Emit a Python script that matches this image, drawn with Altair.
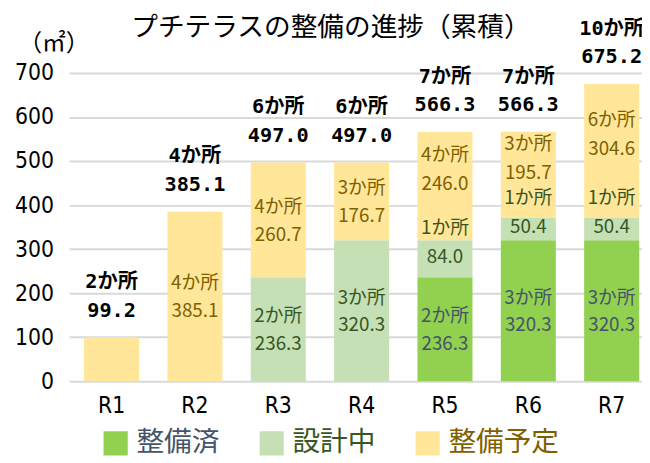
import altair as alt
import pandas as pd

# ---------------- data ----------------
periods = ["R1", "R2", "R3", "R4", "R5", "R6", "R7"]
categories = ["整備済", "設計中", "整備予定"]

done_area = [0, 0, 0, 0, 236.3, 320.3, 320.3]
done_count = [0, 0, 0, 0, 2, 3, 3]
design_area = [0, 0, 236.3, 320.3, 84.0, 50.4, 50.4]
design_count = [0, 0, 2, 3, 1, 1, 1]
plan_area = [99.2, 385.1, 260.7, 176.7, 246.0, 195.7, 304.6]
plan_count = [2, 4, 4, 3, 4, 3, 6]

total_area = [99.2, 385.1, 497.0, 497.0, 566.3, 566.3, 675.2]
total_count = [2, 4, 6, 6, 7, 7, 10]

y_ticks = [0, 100, 200, 300, 400, 500, 600, 700]
title_text = "プチテラスの整備の進捗（累積）"
unit_text = "（㎡）"

# periods whose segment labels are not drawn inside the bar
hidden_inner = ["R1"]
# periods whose upper segment labels sit raised above the segment centre
raised_periods = ["R5", "R6", "R7"]

bar_colors = ["#92D050", "#C5E0B4", "#FFE699"]
label_colors = ["#44546A", "#375623", "#7F6000"]
FONT = "Noto Sans CJK JP"
NARROW = "'Liberation Sans Narrow', 'DejaVu Sans Condensed', 'Noto Sans CJK JP'"
MONO = "'DejaVu Sans Mono', 'Noto Sans CJK JP'"

# ---------------- tables ----------------
rows = []
series = [(done_area, done_count), (design_area, design_count), (plan_area, plan_count)]
for i, r in enumerate(periods):
    for k, (areas, counts) in enumerate(series):
        a = areas[i]
        if a <= 0:
            continue
        rows.append({
            "R": r,
            "cat": categories[k],
            "ord": k,
            "area": a,
            "cnt_t": f"{counts[i]}か所",
            "val_t": f"{a:.1f}",
            "show": r not in hidden_inner,
            "raised": (r in raised_periods) and k > 0,
        })
df = pd.DataFrame(rows)

tot = pd.DataFrame({
    "R": periods,
    "total": total_area,
    "cnt_t": [f"{c}か所" for c in total_count],
    "val_t": [f"{v:.1f}" for v in total_area],
})

# ---------------- encodings ----------------
x_enc = alt.X(
    "R:N", sort=periods,
    scale=alt.Scale(paddingInner=0.34, paddingOuter=0.106, align=0.84),
    axis=alt.Axis(title=None, labelAngle=0, labelFontSize=23, labelPadding=14,
                  ticks=False, domain=False, grid=False, labelColor="#000000",
                  labelFont=NARROW),
)

y_axis = alt.Axis(
    values=y_ticks, title=unit_text, titleAngle=0, titleAlign="center",
    titleBaseline="middle", titleX=-16, titleY=-30, titleFontSize=24,
    titleFontWeight="normal", titleFont=FONT, titleColor="#000000",
    labelFontSize=23, labelFont=NARROW, labelColor="#000000", labelPadding=16,
    ticks=False, domain=False, grid=True, gridColor="#D9D9D9", gridWidth=2,
)
y_scale = alt.Scale(domain=[0, 700], nice=False)


def yenc(field):
    return alt.Y(field, scale=y_scale, axis=y_axis)


label_color_expr = (
    "datum.label == '整備済' ? '#44546A' : "
    "datum.label == '設計中' ? '#375623' : '#7F6000'"
)

base = (
    alt.Chart(df)
    .transform_stack(stack="area", groupby=["R"],
                     sort=[alt.SortField("ord", order="ascending")],
                     as_=["y0", "y1"])
    .transform_calculate(mid="(datum.y0 + datum.y1) / 2")
)

bars = base.mark_bar().encode(
    x=x_enc,
    y=yenc("y0:Q"),
    y2="y1:Q",
    color=alt.Color(
        "cat:N",
        scale=alt.Scale(domain=categories, range=bar_colors),
        legend=alt.Legend(
            title=None, orient="none", legendX=33, legendY=361,
            direction="horizontal", columns=3, symbolType="square",
            symbolSize=600, symbolStrokeWidth=0, labelFontSize=28,
            labelFont=FONT, labelOffset=7, columnPadding=38,
            labelColor=alt.ExprRef(expr=label_color_expr),
        ),
    ),
)

text_color = alt.Color("cat:N", scale=alt.Scale(domain=categories, range=label_colors),
                       legend=None)


def inner_text(field, dy, raised):
    cond = "datum.show && datum.raised" if raised else "datum.show && !datum.raised"
    return base.transform_filter(cond).mark_text(
        font=FONT, fontSize=19, dy=dy, baseline="middle"
    ).encode(x=x_enc, y=yenc("mid:Q"), text=f"{field}:N", color=text_color)


inner_layers = [
    inner_text("cnt_t", -13, False),
    inner_text("val_t", 15, False),
    inner_text("cnt_t", -31, True),
    inner_text("val_t", -2, True),
]

top_cnt = alt.Chart(tot).mark_text(
    font=MONO, fontSize=20.5, fontWeight="bold", color="#000000", dy=-56, baseline="middle"
).encode(x=x_enc, y=yenc("total:Q"), text="cnt_t:N")

top_val = alt.Chart(tot).mark_text(
    font=MONO, fontSize=20.5, fontWeight="bold", color="#000000", dy=-27, baseline="middle"
).encode(x=x_enc, y=yenc("total:Q"), text="val_t:N")

title_layer = alt.Chart(pd.DataFrame({"t": [title_text]})).mark_text(
    font=FONT, fontSize=27, color="#000000", baseline="middle"
).encode(x=alt.value(265), y=alt.value(-46), text="t:N")

chart = (
    alt.layer(bars, *inner_layers, top_cnt, top_val, title_layer)
    .resolve_scale(color="independent")
    .properties(
        width=580, height=312,
        padding={"left": 62, "top": 63, "right": 0, "bottom": 80},
        autosize=alt.AutoSizeParams(type="none"),
        background="#FFFFFF",
    )
    .configure_view(stroke=None)
)

chart.save("out.html", embed_options={"renderer": "svg", "actions": False})
